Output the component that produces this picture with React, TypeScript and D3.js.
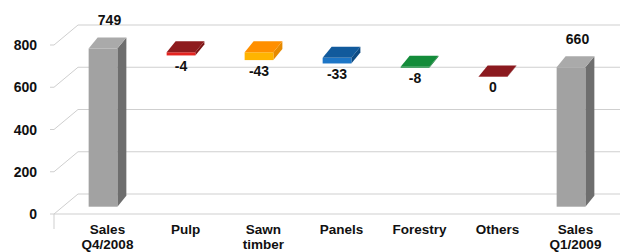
import React from 'react';
import * as d3 from 'd3';

const categories = ['Sales Q4/2008', 'Pulp', 'Sawn timber', 'Panels', 'Forestry', 'Others', 'Sales Q1/2009'];
const categoryLines = [['Sales', 'Q4/2008'], ['Pulp'], ['Sawn', 'timber'], ['Panels'], ['Forestry'], ['Others'], ['Sales', 'Q1/2009']];
// bar extents (bottom / top)
const barLow = [0, 716, 694, 678, 658, 614, 0];
const barHigh = [749, 731, 731, 704.5, 662, 616, 660];
const valueLabels = ['749', '-4', '-43', '-33', '-8', '0', '660'];
const isTotal = [true, false, false, false, false, false, true];
const yTicks = [0, 200, 400, 600, 800];

const faceColors = [
  { front: '#A2A2A2', top: '#AAAAAA', side: '#6E6E6E' },
  { front: '#E52420', top: '#8E1B1D', side: '#7A1414' },
  { front: '#FFB400', top: '#FF8F00', side: '#E68A00' },
  { front: '#1C75C6', top: '#115A9C', side: '#0D4A82' },
  { front: '#0F8A38', top: '#138C3A', side: '#0B6E2C' },
  { front: '#A02025', top: '#8B1A1F', side: '#701418' },
  { front: '#A2A2A2', top: '#AAAAAA', side: '#6E6E6E' },
];

const W = 620, H = 252;
const X0 = 54, X1 = 600;
const WALL_DX = 24, WALL_DY = -20;
const FDX = 10, FDY = -7.3; // bar front offset
const DDX = 9, DDY = -11; // bar depth
const FONT = '"Liberation Sans", Arial, Helvetica, sans-serif';
const GRID = '#CFCFCF';

export default function App() {
  const x = d3.scaleBand<string>().domain(categories).range([X0, X1]).paddingInner(0.632).paddingOuter(0.316);
  const y = d3.scaleLinear().domain([0, 800]).range([214, 45]);

  const pts = (p: [number, number][]) => p.map(q => q.join(',')).join(' ');

  return (
    <div style={{ position: 'fixed', left: 0, top: 0 }}>
      <svg width={W} height={H} style={{ display: 'block', background: '#fff' }}>
        {yTicks.map(t => (
          <g key={'g' + t}>
            <line x1={X0 + WALL_DX} x2={W} y1={y(t) + WALL_DY} y2={y(t) + WALL_DY} stroke={GRID} />
            <line x1={X0} x2={X0 + WALL_DX} y1={y(t)} y2={y(t) + WALL_DY} stroke={GRID} />
            <line x1={X0 - 4} x2={X0} y1={y(t)} y2={y(t)} stroke={GRID} />
            <text x={37} y={y(t)} dy="0.36em" textAnchor="end" fontFamily={FONT} fontWeight="bold" fontSize={14} fill="#111">{t}</text>
          </g>
        ))}
        <line x1={X0} x2={W} y1={y(0)} y2={y(0)} stroke={GRID} />
        <line x1={X0} x2={X0} y1={y(0)} y2={y(0) + 15} stroke={GRID} />

        {categories.map((c, i) => {
          const bx0 = (x(c) as number) + FDX;
          const bx1 = bx0 + x.bandwidth();
          const yt = y(barHigh[i]) + FDY;
          const yb = y(barLow[i]) + FDY;
          const col = faceColors[i];
          return (
            <g key={c}>
              <polygon points={pts([[bx1, yt], [bx1 + DDX, yt + DDY], [bx1 + DDX, yb + DDY], [bx1, yb]])} fill={col.side} />
              <rect x={bx0} y={yt} width={bx1 - bx0} height={Math.max(0.01, yb - yt)} fill={col.front} />
              <polygon points={pts([[bx0, yt], [bx0 + DDX, yt + DDY], [bx1 + DDX, yt + DDY], [bx1, yt]])} fill={col.top} />
            </g>
          );
        })}

        {categories.map((c, i) => {
          const cx = (x(c) as number) + FDX + x.bandwidth() / 2;
          const yt = y(barHigh[i]) + FDY;
          const yb = y(barLow[i]) + FDY;
          const lx = isTotal[i] ? cx + DDX / 2 + 2 : cx;
          const ly = isTotal[i] ? yt + DDY - 12.5 : yb + 15.5;
          return (
            <text key={'v' + c} x={lx} y={ly} textAnchor="middle" fontFamily={FONT} fontWeight="bold" fontSize={14} fill="#111">{valueLabels[i]}</text>
          );
        })}

        {categories.map((c, i) => {
          const cx = (x(c) as number) + FDX + x.bandwidth() / 2 + 4.5;
          return (
            <g key={'x' + c}>
              {categoryLines[i].map((ln, j) => (
                <text key={j} x={cx} y={234 + j * 14.5} textAnchor="middle" fontFamily={FONT} fontWeight="bold" fontSize={13.5} fill="#111">{ln}</text>
              ))}
            </g>
          );
        })}
      </svg>
    </div>
  );
}
